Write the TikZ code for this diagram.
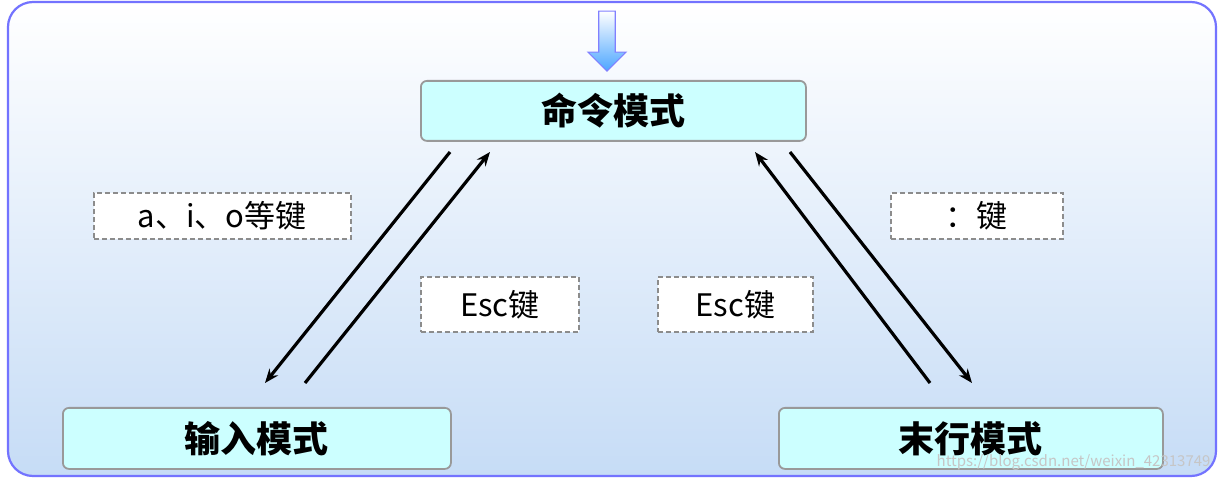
\documentclass[tikz,border=0pt]{standalone}
\usepackage{fontspec}
\setmainfont{Noto Sans CJK SC}
\usetikzlibrary{shapes.arrows,arrows.meta}
\definecolor{modefill}{HTML}{CCFFFF}
\definecolor{bgbot}{HTML}{C6DCF6}
\begin{document}
\begin{tikzpicture}[x=1pt,y=-1pt,
  mode/.style={draw=gray!80,rounded corners=6pt,fill=modefill,line width=1.8pt,font=\fontsize{36}{36}\selectfont\bfseries,anchor=north west,inner sep=0pt},
  lab/.style={draw=gray!90,dash pattern=on 5pt off 3pt,fill=white,line width=1.6pt,font=\fontsize{31}{31}\selectfont,anchor=north west,inner sep=0pt},
  arr/.style={-{Stealth[length=14pt,width=11pt]},line width=3.2pt}]
\useasboundingbox (0,0) rectangle (1219,478);
\shade[top color=white,bottom color=bgbot,draw=blue!55,line width=2.2pt,rounded corners=25pt] (8,2) rectangle (1216,476);
\node[single arrow,shape border rotate=270,minimum height=60pt,minimum width=38pt,single arrow head extend=6pt,
  top color=white,bottom color=blue!50!cyan!70,draw=blue!50,line width=1.2pt,inner sep=4pt] (topar) at (607,37) {};
\node[mode,minimum width=385pt,minimum height=60pt] (cmd) at (420,80) {命令模式};
\node[mode,minimum width=388pt,minimum height=61pt] (inp) at (62,407) {输入模式};
\node[mode,minimum width=384pt,minimum height=61pt] (last) at (778,407) {末行模式};
\node[lab,minimum width=257pt,minimum height=46pt] (l1) at (93,192) {a、i、o等键};
\node[lab,minimum width=158pt,minimum height=55pt] (l2) at (420,276) {Esc键};
\node[lab,minimum width=155pt,minimum height=55pt] (l3) at (657,276) {Esc键};
\node[lab,minimum width=172pt,minimum height=46pt] (l4) at (890,192) {：键};
\coordinate (a1) at (450,152); \coordinate (a2) at (265,383);
\coordinate (b1) at (305,383); \coordinate (b2) at (490,152);
\coordinate (c1) at (930,383); \coordinate (c2) at (755,152);
\coordinate (d1) at (790,152); \coordinate (d2) at (972,383);
\draw[arr] (a1) -- (a2);
\draw[arr] (b1) -- (b2);
\draw[arr] (c1) -- (c2);
\draw[arr] (d1) -- (d2);
\node[text=gray!45,font=\fontsize{15}{15}\selectfont,anchor=east] (wm) at (1214,462) {https://blog.csdn.net/weixin\_42313749};
\end{tikzpicture}
\end{document}
